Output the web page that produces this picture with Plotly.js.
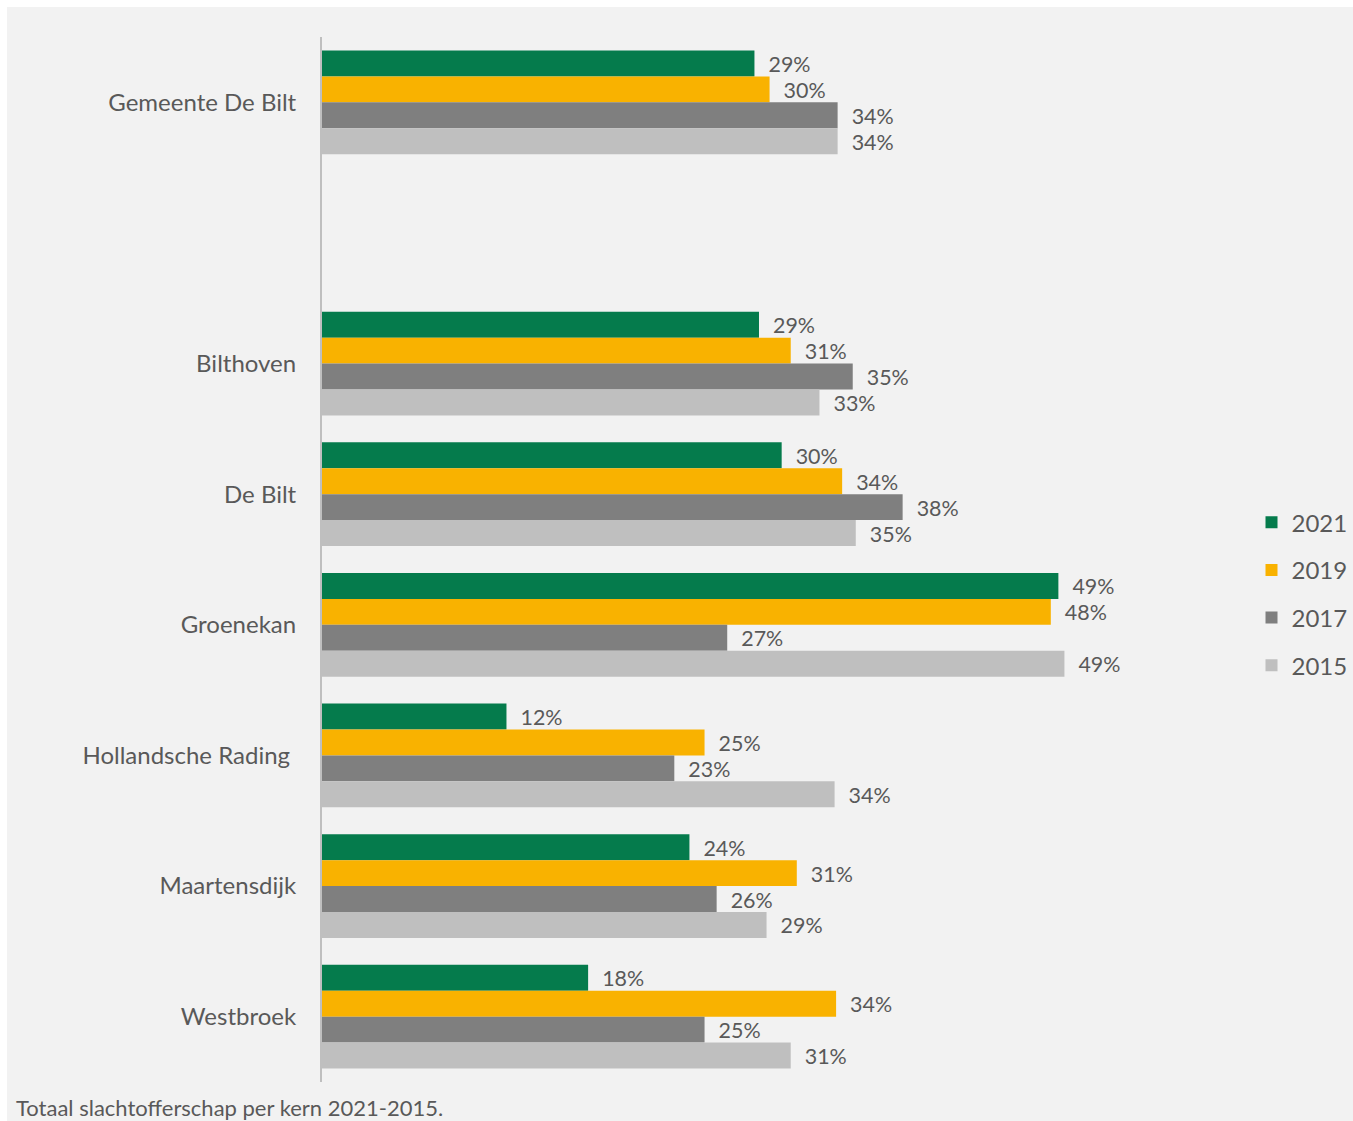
<!DOCTYPE html>
<html>
<head>
<meta charset="utf-8">
<script src="https://cdn.plot.ly/plotly-3.0.1.min.js"></script>
<style>
html, body { margin: 0; padding: 0; background: #ffffff; }
#chart { position: absolute; left: 7px; top: 7px; width: 1346px; height: 1114px; }
</style>
</head>
<body>
<div id="chart"></div>
<script>
const categories = ['Gemeente De Bilt', ' ', 'Bilthoven', 'De Bilt', 'Groenekan', 'Hollandsche Rading ', 'Maartensdijk', 'Westbroek'];
const years = ['2021', '2019', '2017', '2015'];
const values2021 = [28.6, null, 28.9, 30.4, 48.7, 12.2, 24.3, 17.6];
const values2019 = [29.6, null, 31.0, 34.4, 48.2, 25.3, 31.4, 34.0];
const values2017 = [34.1, null, 35.1, 38.4, 26.8, 23.3, 26.1, 25.3];
const values2015 = [34.1, null, 32.9, 35.3, 49.1, 33.9, 29.4, 31.0];
const colors = ['#057b4c', '#f9b200', '#7f7f7f', '#bfbfbf'];
const series = [values2021, values2019, values2017, values2015];
const caption = 'Totaal slachtofferschap per kern 2021-2015.';

const FONT = 'Lato, "Open Sans", sans-serif';
const TXT = '#595959';
const pad = '\u00a0\u00a0';

const traces = series.map((vals, i) => ({
  type: 'bar',
  orientation: 'h',
  name: years[i],
  legendgroup: years[i],
  y: categories,
  x: vals,
  marker: { color: colors[i], line: { width: 0 } },
  text: vals.map(v => v == null ? '' : pad + Math.round(v) + '%'),
  textposition: 'outside',
  textfont: { family: FONT, size: 24, color: TXT },
  cliponaxis: false,
  hoverinfo: 'none'
}));

const layout = {
  width: 1346,
  height: 1114,
  paper_bgcolor: '#f2f2f2',
  plot_bgcolor: 'rgba(0,0,0,0)',
  margin: { l: 315, r: 154, t: 30, b: 39 },
  barmode: 'group',
  bargap: 0.206,
  bargroupgap: 0,
  showlegend: true,
  font: { family: FONT, color: TXT, size: 24 },
  xaxis: {
    range: [0, 58],
    showgrid: false, zeroline: false, showticklabels: false, showline: false, ticks: ''
  },
  yaxis: {
    type: 'category',
    categoryorder: 'array',
    categoryarray: categories,
    autorange: 'reversed',
    showgrid: false, zeroline: false,
    showline: true, linecolor: '#bfbfbf', linewidth: 2,
    ticks: '',
    ticklabelstandoff: 19,
    tickfont: { family: FONT, size: 24, color: TXT }
  },
  legend: {
    xref: 'container', yref: 'container',
    x: 0.9246, y: 0.473, xanchor: 'left', yanchor: 'middle',
    traceorder: 'grouped',
    tracegroupgap: 13.5,
    bgcolor: 'rgba(0,0,0,0)',
    font: { family: FONT, size: 24, color: TXT },
    itemwidth: 30
  },
  annotations: [{
    xref: 'paper', yref: 'paper',
    x: -0.351, y: -0.0245, xanchor: 'left', yanchor: 'middle',
    text: caption, showarrow: false,
    font: { family: FONT, size: 22, color: TXT }
  }]
};

Plotly.newPlot('chart', traces, layout, { displayModeBar: false, staticPlot: true });
</script>
</body>
</html>
